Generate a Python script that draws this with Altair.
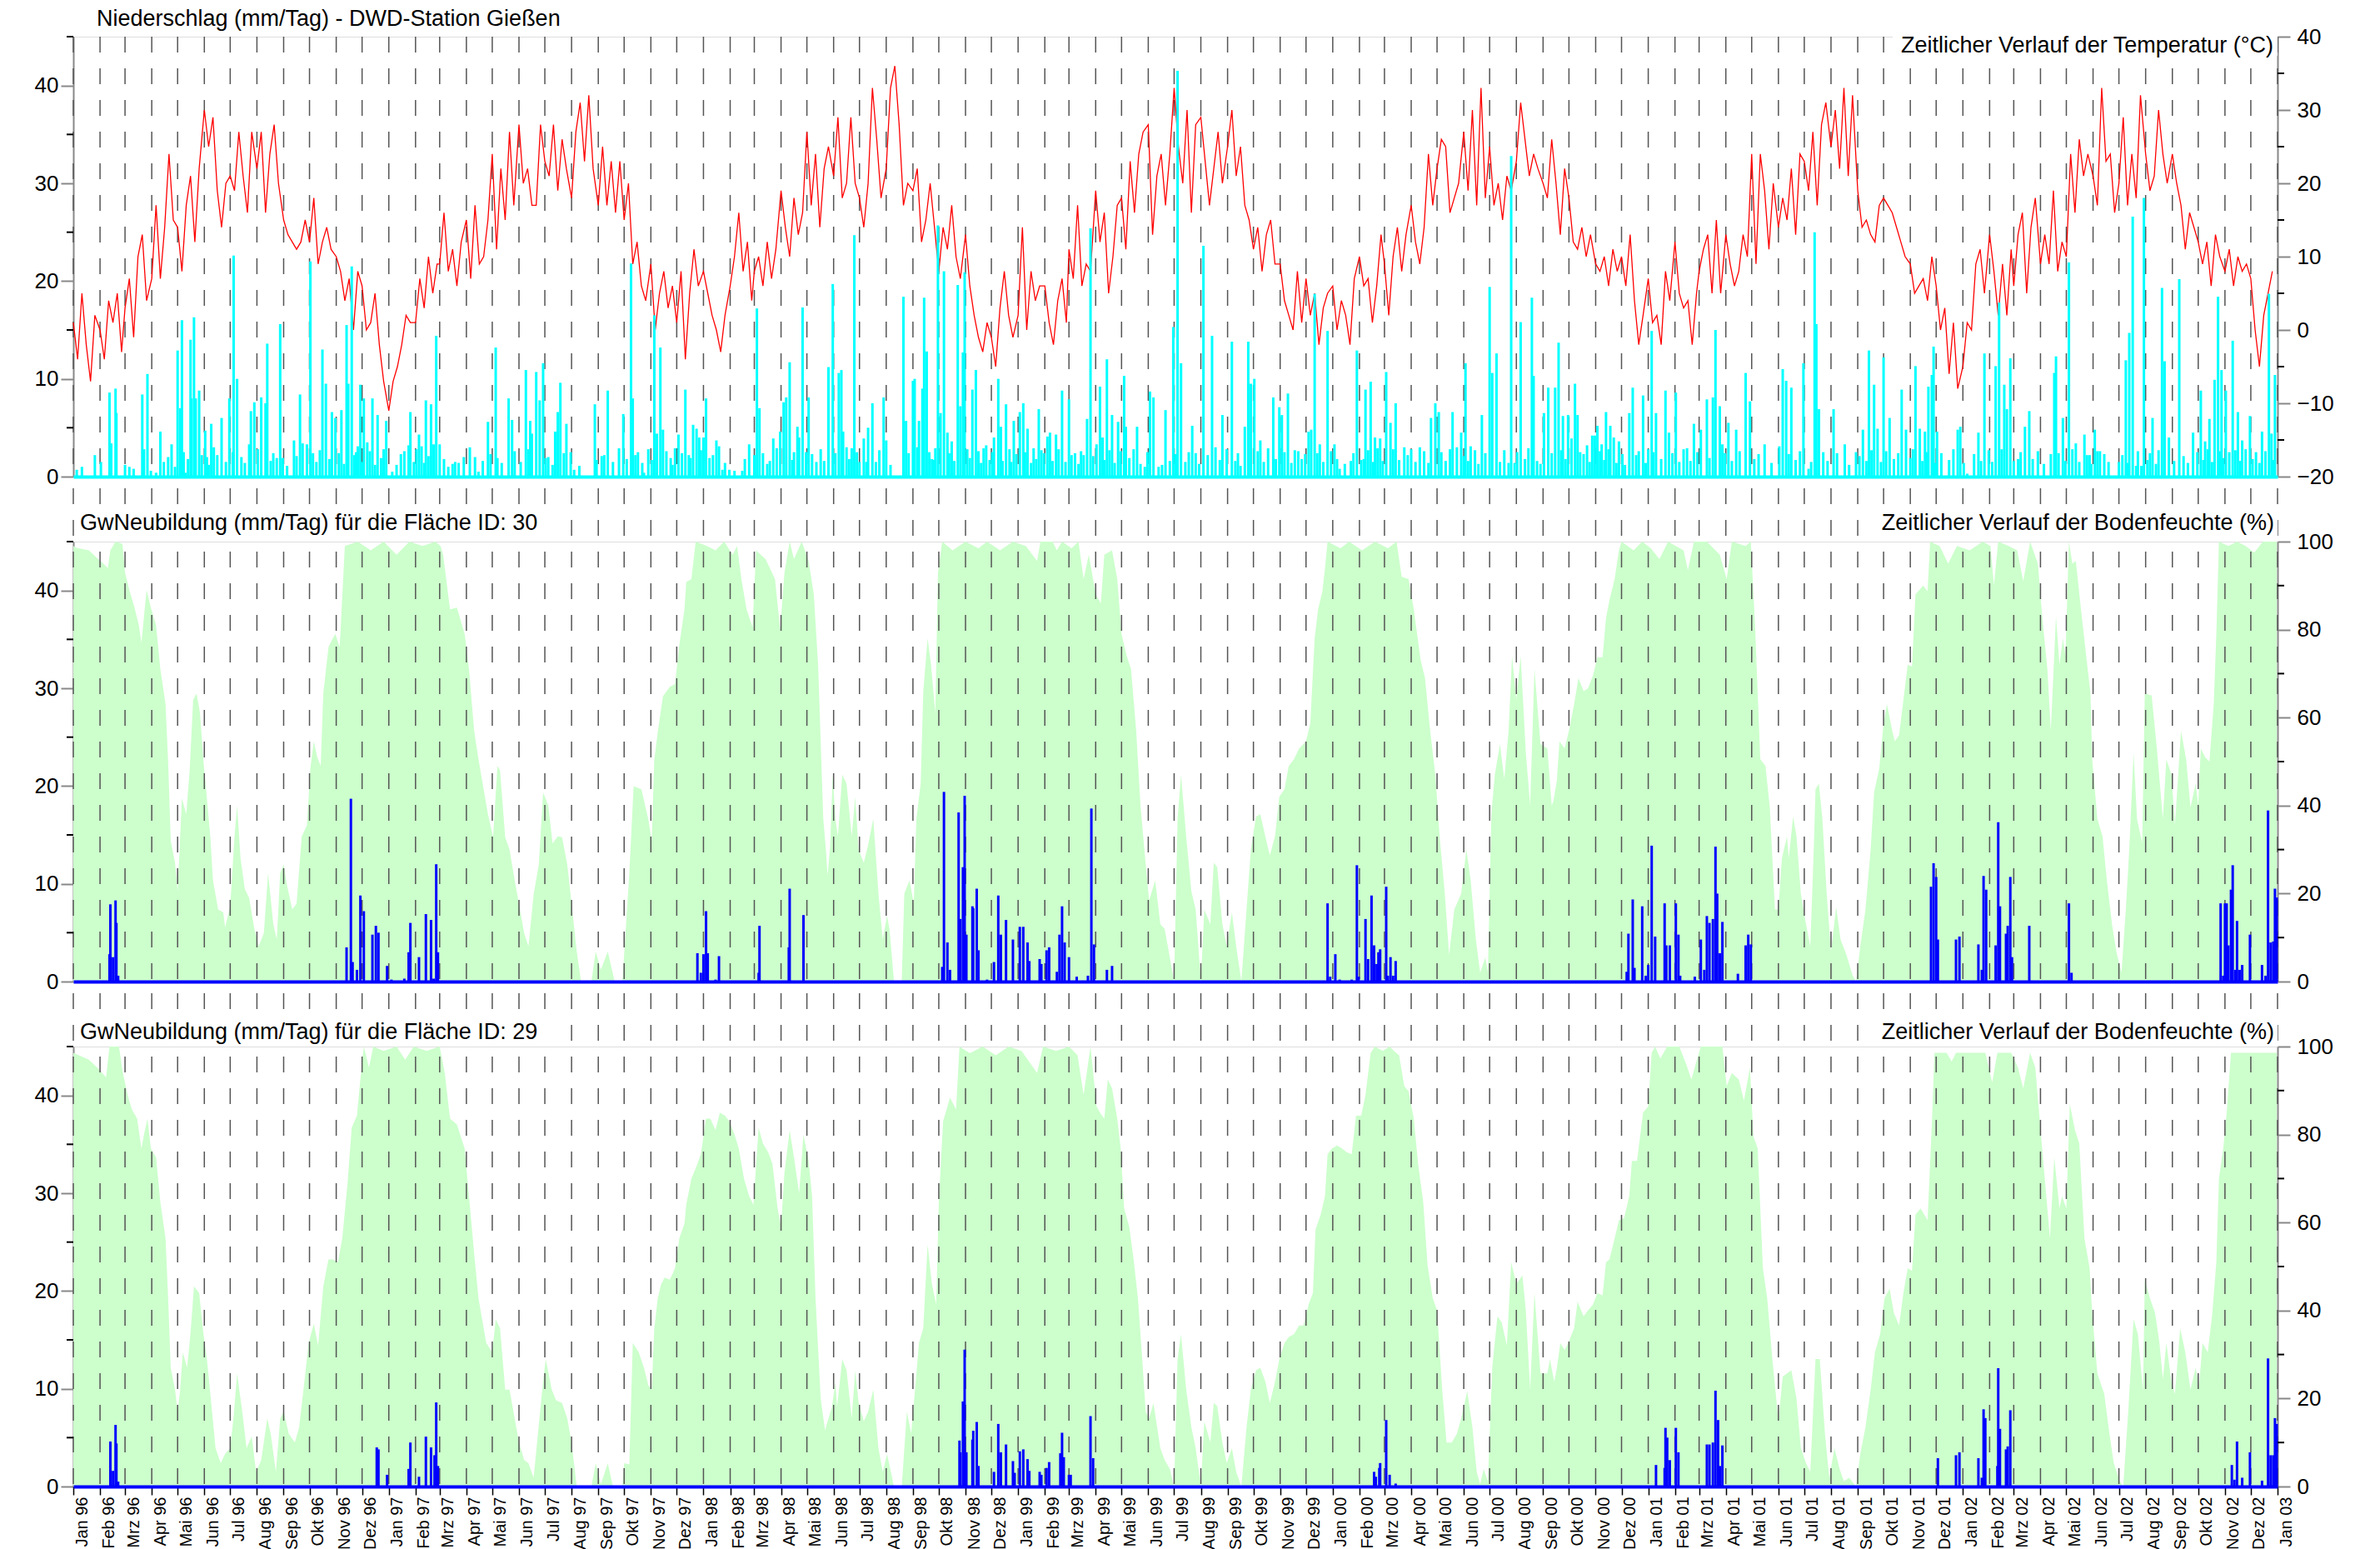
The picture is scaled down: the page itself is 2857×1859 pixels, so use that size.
import altair as alt
import pandas as pd

# ---------------- layout constants ----------------
W, H = 2646, 528
FONT = "Liberation Sans"
START = pd.Timestamp("1996-01-01")

# ---------------- texts / tick labels ----------------
MONTH_LABELS = ["Jan", "Feb", "Mrz", "Apr", "Mai", "Jun", "Jul", "Aug", "Sep", "Okt", "Nov", "Dez"]
TITLE_TOP_LEFT = "Niederschlag (mm/Tag) - DWD-Station Gießen"
TITLE_TOP_RIGHT = "Zeitlicher Verlauf der Temperatur (°C)"
TITLE_MID_LEFT = "GwNeubildung (mm/Tag) für die Fläche ID: 30"
TITLE_BOT_LEFT = "GwNeubildung (mm/Tag) für die Fläche ID: 29"
TITLE_SOIL = "Zeitlicher Verlauf der Bodenfeuchte (%)"

LEFT_TICKS = [0, 10, 20, 30, 40]
LEFT_MINOR = [5, 15, 25, 35, 45]
TEMP_TICKS = [-20, -10, 0, 10, 20, 30, 40]
TEMP_MINOR = [-15, -5, 5, 15, 25, 35]
SOIL_TICKS = [0, 20, 40, 60, 80, 100]
SOIL_MINOR = [10, 30, 50, 70, 90]

# ---------------- temperature (°C), 6 readings per month (day 1,6,11,16,21,26) ----------------
T1996 = [1,-4,5,-2,-7,2, 0,-4,4,1,5,-3, 3,7,-1,10,13,4, 7,17,7,14,24,15, 14,8,17,21,12,22, 30,25,29,19,14,20,
         21,19,27,21,16,27, 22,27,16,24,28,20, 15,13,12,11,12,15, 12,18,9,12,14,11, 10,8,4,7,0,8, 6,0,1,5,-2,-7]
T1997 = [-11,-7,-5,-2,2,1, 1,7,3,10,5,9, 9,16,8,11,6,12, 15,7,17,9,10,15, 24,11,22,15,27,17, 28,20,22,17,17,28,
         23,21,28,19,26,22, 18,27,31,23,32,22, 17,25,17,23,16,23, 15,20,9,12,6,4, 9,0,5,8,3,6, 1,8,-4,5,11,6]
T1998 = [8,5,2,0,-3,2, 6,10,16,8,12,4, 8,10,6,12,7,11, 19,14,10,18,13,16, 27,17,24,14,22,25, 21,29,18,20,29,20,
         18,14,20,33,26,18, 22,33,36,28,17,20, 19,22,12,15,20,14, 8,14,11,17,10,7, 13,6,2,-1,-3,1, -1,-5,3,8,2,-1]
T1999 = [2,14,0,8,4,6, 6,1,-2,4,7,1, 11,7,17,6,9,8, 19,12,16,5,10,17, 18,11,23,16,24,27, 28,13,21,24,17,24,
         33,25,20,30,16,28, 29,23,17,22,27,20, 25,30,21,25,17,15, 11,14,8,13,15,9, 9,4,2,0,8,1, 7,2,5,-2,3,5]
T2000 = [6,0,4,2,-2,7, 10,6,7,1,6,13, 9,2,10,14,8,13, 17,12,9,14,24,17, 22,26,25,16,18,20, 27,19,30,17,33,18,
         25,17,20,15,21,19, 23,31,26,21,24,22, 20,18,26,20,13,22, 18,12,11,14,10,13, 9,8,10,6,11,8, 10,6,13,4,-2,2]
T2001 = [7,1,2,-2,8,4, 12,5,3,4,-2,5, 8,11,13,5,15,5, 13,9,6,8,13,10, 24,9,24,19,11,20, 14,18,15,22,13,24,
         23,19,27,17,28,31, 25,30,22,33,21,32, 19,14,15,13,12,17, 18,17,16,14,12,10, 9,5,6,7,4,10, 6,0,3,-6,1,-8]
T2002 = [-5,1,0,9,11,5, 13,8,2,9,2,11, 6,13,16,5,14,18, 9,13,9,19,8,12, 10,24,16,26,21,24, 21,17,33,23,24,16,
         20,29,17,24,18,32, 24,19,21,30,24,20, 24,20,17,11,16,14, 12,9,12,6,13,10, 8,11,6,10,8,9, 7,0,-5,2,5,8]

# ---------------- precipitation (day since 1996-01-01, mm/Tag) ----------------
PRECIP_9698 = [(4,0.7),(10,1),(25,2.2),(32,1.5),(42,8.6),(44,3.4),(49,9),(50,6.5),(65,1),(80,8.4),(82,2.8),(86,10.5),
    (90,0.6),(96,0.4),(101,4.6),(114,3.3),(121,12.9),(124,7),(126,16),(130,0.4),(136,14),(137,8),(140,16.3),(142,8),
    (146,8.8),(153,4.7),(155,2),(160,5.4),(167,2.2),(172,6),(181,8),(185,2.5),(186,22.6),(190,10),(204,3.3),(206,6.7),
    (210,7.6),(218,8.1),(223,7.5),(225,13.6),(236,1.9),(240,15.6),(243,1.9),(256,3.7),(263,8.4),(266,3.4),(271,3.3),
    (275,22),(278,2.4),(289,13),(293,9.5),(300,6.6),(304,6),(311,6.8),(317,15.5),(319,9.5),(323,21.5),(328,2.5),
    (330,3.1),(333,9.4),(337,8),(341,3.5),(347,8),(353,6.3),(363,5.7),(370,0.5),(384,2.6),(389,3.2),(391,6.6),
    (401,4.3),(404,3.1),(409,7.8),(415,7.4),(418,3.3),(421,14.4),(425,3.3),(440,1.3),(443,1.5),(447,1.4),(453,2),
    (460,3),(470,0.5),(481,5.6),(490,13.2),(492,1.9),(505,8),(509,5.8),(525,10.9),(530,5.7),(532,4.4),(537,10.7),
    (541,7.8),(545,11.6),(548,1.9),(559,4.6),(562,6.6),(565,9.6),(572,5.4),(577,2.5),(581,0.7),(605,7.4),(607,1.7),
    (613,2.1),(620,8.8),(638,6.4),(647,21.8),(649,8),(652,2.2),(662,0.4),(674,16.5),(677,4.4),(681,13.2),(684,4.8),
    (693,1.9),(698,2.9),(702,4.3),(710,8.9),(714,2.2),(719,5.3),(723,4.9),(726,4),(731,4),(734,8),(738,1.9),
    (746,3.7),(749,3.1),(753,0.7),(761,0.7),(767,0.6),(776,0.6),(784,3.3),(790,2.2),(793,17.2),(796,7),(805,1.3),
    (812,3.9),(820,4.6),(824,7.6),(827,8.1),(831,11.7),(836,2.5),(840,5.1),(842,4),(846,17.3),(850,2.5)]
PRECIP_9800 = [(853,8.1),(876,11.2),(881,19.7),(888,10.6),(891,10.9),(893,4.6),(897,3),(906,24.7),(909,2.5),
    (912,1.5),(917,3.9),(920,1.5),(922,5),(927,7.5),(940,8.1),(943,3.7),(963,18.4),(966,5.7),(974,9.8),(976,10),
    (981,5.7),(985,9),(987,18.3),(990,12.8),(998,1.7),(1003,25.7),(1006,6.5),(1010,21),(1014,4.5),(1019,3.6),
    (1026,19.6),(1029,7.2),(1032,12.7),(1034,20.9),(1043,8.9),(1047,10.9),(1059,3.2),(1068,4),(1073,10),(1076,5.1),
    (1082,7.4),(1091,5.7),(1098,6.6),(1102,7.5),(1107,4.9),(1120,6.9),(1123,2.7),(1130,4.1),(1133,4.5),(1140,4.3),
    (1147,8.8),(1155,7.9),(1162,2.4),(1172,2.2),(1176,5.9),(1180,25.4),(1187,3.3),(1191,9.2),(1194,4),(1199,12),
    (1205,6.3),(1212,5.6),(1219,10.3),(1221,5.1),(1234,5.1),(1243,1),(1249,8.7),(1253,8.1),(1259,1),(1267,6.8),
    (1272,1.6),(1276,15.3),(1281,41.5),(1285,11.6),(1294,2.5),(1298,5.2),(1311,23.6),(1321,14.4),(1325,3),
    (1333,6.3),(1344,13.8),(1354,1.1),(1359,5.1),(1363,13.8),(1366,9.5),(1370,10),(1377,3.7),(1392,8.1),(1399,7.1),
    (1402,6.3),(1409,8.5),(1421,2.6),(1433,4.6),(1436,4.8),(1440,18.7),(1446,3.3),(1455,14.9),(1463,3.3),(1469,0.8),
    (1482,1.6),(1489,12.9),(1494,1.7),(1499,8.9),(1505,9.7),(1510,4),(1516,3.9),(1523,10.7),(1528,5.5),(1534,7.5),
    (1544,3),(1552,2.8),(1562,3),(1575,6),(1580,7.5),(1584,6.6),(1600,6.6),(1605,3),(1610,4.5),(1615,11.6),
    (1621,3.1),(1634,6.3),(1643,19.4),(1646,10.6),(1651,12.6),(1668,32.8),(1672,1.4),(1679,15.8),(1692,18.3),
    (1694,10.3),(1702,1.3),(1706,6.5),(1711,9.1)]
PRECIP_0002 = [(1719,9.1),(1723,13.7),(1728,6.2),(1734,6.3),(1738,3.9),(1742,9.5),(1745,6.3),(1752,2.3),(1756,3.2),
    (1762,4.2),(1765,4.2),(1768,5.2),(1773,3.3),(1778,6.6),(1783,5.2),(1787,4),(1793,3.6),(1805,6.5),(1809,9.1),
    (1813,2.2),(1821,8.3),(1827,2.8),(1831,14.9),(1836,6.5),(1847,8.8),(1851,4.5),(1859,8.6),(1872,2.9),(1880,5.4),
    (1888,4.8),(1895,7.9),(1902,8.1),(1905,15),(1910,7.2),(1913,3.3),(1920,5.5),(1929,4.8),(1940,10.6),(1945,7.7),
    (1962,3.3),(1979,3.1),(1983,11),(1987,9.8),(1993,9.1),(2007,11.6),(2013,0.8),(2020,25),(2022,15.6),(2025,6.9),
    (2042,6.9),(2055,3.3),(2068,2.5),(2076,4.8),(2083,12.9),(2089,9.4),(2093,4.9),(2100,12.2),(2107,6),(2121,8.9),
    (2126,4.8),(2137,11.3),(2142,4.9),(2148,4.6),(2152,9.2),(2156,10.4),(2158,13.3),(2162,4.6),(2181,2.8),
    (2186,4.8),(2189,5.1),(2197,0.3),(2210,4.5),(2217,12.6),(2230,11.3),(2234,17.8),(2240,9.4),(2243,6.9),
    (2247,12.1),(2256,1.8),(2264,5.1),(2269,6.7),(2294,2.3),(2298,10.6),(2300,12.3),(2308,6),(2315,21.9),
    (2323,3.4),(2333,4.3),(2339,2.2),(2345,4.8),(2351,2.6),(2356,2.3),(2373,1.5),(2381,11.9),(2385,14.7),
    (2389,26.6),(2393,1.1),(2399,1.1),(2402,28.5),(2412,6),(2423,19.3),(2426,11.8),(2431,4),(2443,20.2),(2459,4.5),
    (2468,8.8),(2473,3.6),(2478,5.9),(2484,9.9),(2488,18.4),(2492,10.9),(2497,8.8),(2501,2.5),(2505,13.9),
    (2511,6.6),(2516,3.7),(2525,6.2),(2539,4.6),(2547,18.7),(2550,4.4),(2554,10.4)]
# the dense band of light daily rain (0.5-3 mm) between the larger events
PRECIP_LIGHT = [(60,1.2),(70,0.8),(105,1.5),(110,2),(118,1),(128,2.5),(133,1.8),(149,2.2),(157,1.2),(163,3),
    (177,1.5),(195,2),(199,1.4),(214,2.8),(229,1.6),(232,2.4),(248,1.1),(259,2.1),(282,1.5),(286,2.7),(297,1.8),
    (308,2.4),(314,1.3),(326,2.2),(335,1.5),(344,2.6),(350,1.2),(357,1.9),(360,2.8),(375,1.2),(380,2.3),(395,1.5),
    (398,2.8),(407,1.4),(412,2.1),(430,1.8),(435,1),(466,2),(475,1.6),(484,2.3),(497,1.4),(512,2.6),(519,1.5),
    (528,2.8),(551,2),(556,1.2),(569,2.4),(587,1.1),(616,2.2),(626,1.5),(633,2.9),(642,1.8),(655,2.5),(660,1.4),
    (667,2.8),(671,1.7),(688,2.6),(695,1.2),(706,2.4),(716,1.9),(728,2.7),(742,2.2),(756,1.4),(779,1.8),(800,2.4),
    (808,1.6),(816,2.9),(834,1.7),(857,2.3),(862,1.5),(867,2.8),(871,1.6),(884,2.4),(900,1.8),(903,2.9),(931,1.5),
    (935,2.7),(948,1.2),(969,2.4),(979,3),(993,2.5),(996,1.8),(1000,2.9),(1016,2.4),(1022,1.6),(1037,2.8),
    (1040,1.9),(1050,2.6),(1053,1.4),(1056,2.9),(1063,1.7),(1066,2.5),(1078,1.6),(1086,2.8),(1088,1.5),(1094,2.3),
    (1104,2.5),(1111,1.4),(1114,2.9),(1117,1.8),(1126,2.4),(1136,1.6),(1143,2.8),(1151,1.5),(1158,2.2),(1166,1.3),
    (1169,2.6),(1183,2.1),(1196,1.7),(1202,2.7),(1208,1.4),(1215,2.6),(1225,1.9),(1230,2.8),(1238,1.3),(1246,2.5),
    (1263,1.2),(1279,2.3),(1290,1.5),(1302,2.4),(1306,1.3),(1316,2.2),(1330,1.7),(1338,2.8),(1348,1.6),(1351,2.4),
    (1374,2.6),(1381,1.5),(1386,2.9),(1395,1.8),(1405,2.5),(1413,1.4),(1417,2.7),(1425,1.8),(1429,2.3),(1443,2.4),
    (1450,1.5),(1459,2.6),(1466,1.8),(1475,1.3),(1485,2.4),(1497,1.8),(1502,2.7),(1508,1.5),(1513,2.9),(1519,1.6),
    (1531,2.8),(1538,1.7),(1548,2.2),(1557,1.5),(1567,2.6),(1572,1.4),(1587,2.5),(1592,1.6),(1597,2.8),(1613,2.1),
    (1618,1.6),(1626,2.7),(1630,1.3),(1638,2.4),(1655,1.5),(1660,2.7),(1665,1.4),(1675,2.5),(1684,1.8),(1688,2.9),
    (1698,1.6),(1715,2.4),(1726,2.7),(1731,1.8),(1748,2.5),(1759,1.5),(1771,2.6),(1776,1.7),(1781,2.8),(1790,1.4),
    (1797,2.3),(1800,1.2),(1816,2.6),(1824,1.4),(1833,2.5),(1842,1.8),(1855,2.4),(1863,1.5),(1868,2.8),(1876,1.6),
    (1884,2.5),(1898,1.9),(1916,2.4),(1924,1.6),(1933,2.6),(1950,1.8),(1955,2.3),(1970,1.4),(1990,2.3),(1998,1.7),
    (2003,2.6),(2016,1.5),(2030,2.5),(2035,1.6),(2046,2.4),(2060,1.2),(2072,2.1),(2080,1.6),(2086,2.7),(2097,1.5),
    (2103,2.6),(2112,1.8),(2117,2.4),(2131,1.9),(2134,2.8),(2145,1.6),(2150,2.5),(2160,1.4),(2167,2.4),(2176,1.7),
    (2193,1.4),(2205,2.3),(2213,1.6),(2222,2.7),(2226,1.5),(2237,2.8),(2251,1.6),(2259,2.5),(2273,1.8),(2279,2.6),
    (2286,1.3),(2303,2.4),(2311,1.6),(2319,2.8),(2327,1.5),(2336,2.2),(2341,1.3),(2348,2.6),(2361,1.5),(2377,2.2),
    (2383,1.4),(2395,2.6),(2406,1.7),(2409,2.4),(2416,1.3),(2419,2.7),(2437,1.6),(2448,2.1),(2453,1.4),(2464,2.5),
    (2471,1.7),(2476,2.8),(2481,1.5),(2490,2.6),(2494,1.9),(2508,2.7),(2514,1.6),(2520,2.8),(2528,1.8),(2532,2.5),
    (2536,1.4),(2543,2.6),(2552,1.7)]

# ---------------- groundwater recharge (day, mm/Tag) ----------------
GW30 = [(42,2.8),(43,7.9),(46,2.5),(49,8.3),(50,6),(52,0.6),(317,3.5),(322,18.7),(324,2),(329,1.2),(333,8.8),
    (337,7.2),(347,4.8),(351,5.7),(354,5),(364,1.6),(369,0.2),(384,0.3),(389,3),(391,6),(401,2.5),(409,6.9),
    (415,6.3),(418,0.3),(421,12),(423,3),(724,2.9),(728,0.9),(731,2.8),(734,7.2),(736,2.9),(745,0.2),(749,2.6),
    (795,0.9),(796,5.7),(830,3.5),(831,9.5),(847,6.8),(1008,1.5),(1010,19.4),(1014,4),(1017,1.2),(1027,17.3),
    (1029,6.4),(1032,11.7),(1034,19),(1036,4.8),(1043,7.7),(1044,7.5),(1048,9.5),(1050,3.2),(1060,0.2),(1068,2),
    (1073,8.8),(1076,4.8),(1082,6.3),(1090,4.3),(1098,5.6),(1102,5.6),(1107,4),(1109,2.1),(1121,2.3),(1123,1.8),
    (1129,3.2),(1132,3.5),(1141,1),(1144,4.8),(1147,7.7),(1150,4),(1155,2.5),(1164,0.5),(1177,0.6),(1181,17.7),
    (1184,3.8),(1199,1.2),(1205,1.6),(1455,8),(1458,0.5),(1464,2.8),(1469,0.2),(1483,0.2),(1489,11.9),(1491,0.5),
    (1499,6.4),(1502,2.3),(1506,8.8),(1509,3.7),(1512,1.8),(1514,3),(1516,3.3),(1523,9.7),(1525,0.6),(1528,2.5),
    (1531,0.6),(1534,2.1),(1802,1),(1804,4.9),(1809,8.4),(1811,1.4),(1820,7.7),(1824,0.6),(1827,1.7),(1831,13.9),
    (1835,4.6),(1846,8),(1848,3.7),(1852,3.7),(1859,8),(1862,4.8),(1864,0.6),(1881,0.5),(1888,4.3),(1892,1.2),
    (1895,6.7),(1898,6),(1902,6.4),(1905,13.8),(1907,9),(1910,2.9),(1913,6.1),(1931,0.8),(1940,3.7),(1943,4.8),
    (1946,3.8),(2155,9.7),(2158,12.1),(2161,10.7),(2163,4.3),(2184,4.3),(2188,4.6),(2210,3.8),(2214,1.2),
    (2216,10.8),(2219,9.4),(2230,3.7),(2233,16.3),(2235,7.7),(2242,4.9),(2244,5.7),(2247,10.7),(2249,2.5),
    (2269,5.7),(2315,8),(2318,0.9),(2491,8),(2494,0.6),(2496,8),(2498,8),(2500,3.7),(2503,9.4),(2505,11.9),
    (2508,1.2),(2510,6.2),(2513,1.2),(2516,1.7),(2525,4.8),(2539,1.7),(2543,0.6),(2546,17.5),(2549,4),(2552,4.1),
    (2554,9.5),(2556,8.6)]
GW29 = [(43,4.6),(46,1.6),(49,6.3),(50,4.4),(52,0.5),(352,4),(354,3.8),(364,1.2),(389,1.8),(391,4.5),(401,1),
    (409,5.1),(415,4),(419,3.2),(421,8.6),(423,2.1),(1028,4.7),(1029,3.5),(1032,8.7),(1034,14),(1036,3.5),
    (1043,4.8),(1044,5.7),(1048,6.6),(1050,2.1),(1068,1.5),(1073,6.4),(1076,3.5),(1082,4.3),(1090,2.6),(1092,1.4),
    (1098,3.6),(1102,3.8),(1107,2.8),(1109,1.6),(1121,1.5),(1123,1.2),(1129,1.9),(1132,2.5),(1145,3.4),(1147,5.5),
    (1149,3),(1155,1.2),(1157,1.2),(1180,7.2),(1183,2.9),(1509,1.5),(1511,1),(1515,1.9),(1516,2.4),(1523,6.8),
    (1527,1.2),(1534,0.3),(1836,2.2),(1846,1.9),(1847,6),(1849,5),(1852,2.7),(1859,6),(1862,3.5),(1895,4.3),
    (1898,4.3),(1902,4.5),(1905,9.8),(1908,6.8),(1910,2.1),(1913,4.2),(2163,2.9),(2184,3.2),(2188,3.5),(2210,2.9),
    (2214,0.9),(2216,7.9),(2218,7),(2232,2.1),(2233,12.1),(2235,5.9),(2242,3.8),(2244,4.1),(2247,7.8),(2504,2.2),
    (2507,0.7),(2510,4.6),(2516,0.9),(2525,3.5),(2539,0.6),(2546,13.1),(2549,3.2),(2552,3.2),(2554,7),(2556,6.4)]

# ---------------- soil moisture (day, %) ----------------
SOIL30 = [(0,99),(4,98.6),(18,98),(29,96),(35,95),(40,94),(43,98),(49,100),(57,99.5),(60,93),(65,89),(71,85),
    (76,81),(79,77),(82,83),(85,89),(90,85),(96,81),(101,71),(107,63),(110,50),(113,32),(118,27),(121,20.5),
    (124,33),(126,41.6),(131,38),(135,48),(139,64),(143,65.5),(147,61),(151,50),(154,43.7),(159,32.8),(162,23),
    (168,16.4),(174,15.7),(176,12.3),(182,17),(187,33),(190,40),(194,28),(199,21),(204,19),(210,12),(215,8),
    (221,11),(226,24.6),(232,13),(236,9.6),(240,24.6),(244,26.6),(248,21.8),(254,16.4),(259,17.7),(265,33),
    (271,35.5),(275,48.5),(279,54.6),(283,51),(287,49),(290,65.5),(296,76),(301,78),(304,79),(309,76),(315,99),
    (330,100),(345,98),(360,100),(375,97),(390,100),(405,99),(420,100),(426,99),(429,97),(437,84.6),(445,85),
    (454,79),(459,71),(465,57),(470,50.5),(476,43.7),(481,38),(487,32.8),(492,49),(495,48),(501,32.8),(506,30),
    (512,23),(517,17.7),(523,11),(528,8),(534,19.8),(540,26.6),(545,43),(551,40),(556,31.4),(562,33),(567,32.8),
    (573,26.6),(578,17.7),(584,6.8),(589,0),(601,0),(606,6.8),(612,2.7),(620,6.8),(628,0),(637,0),(645,24.6),
    (650,44.4),(659,43.7),(667,36.9),(671,32),(674,50.5),(678,56.7),(684,64.8),(692,67),(698,67.6),(703,76.5),
    (709,84.6),(711,90.8),(717,91.5),(722,100),(735,99),(745,98),(755,100),(765,97),(770,99),(775,91.5),
    (781,84.6),(788,80.5),(792,98),(803,96),(814,91.5),(820,80),(825,93),(831,100),(836,96),(845,100),(853,95.6),
    (859,88),(864,72),(870,37),(873,30),(875,24),(878,31),(881,47),(884,37),(887,33),(892,47),(897,45),(903,33),
    (907,42),(911,30),(917,27),(922,31),(928,37),(934,20),(939,9.6),(944,15),(947,11.6),(952,0),(961,0),(964,20),
    (970,23),(975,17.7),(978,37),(983,45),(986,66),(991,78),(995,72),(1000,61),(1003,93),(1008,100),(1020,98),
    (1035,100),(1050,98.5),(1060,100),(1075,98),(1090,100),(1105,99),(1118,95.6),(1122,100),(1136,100),(1141,98),
    (1147,100),(1158,98.5),(1166,100),(1172,91.5),(1178,97),(1186,88),(1192,86),(1196,97),(1205,98),(1211,91.5),
    (1216,79),(1222,74),(1227,71),(1233,57),(1238,40),(1244,26.6),(1248,18.4),(1255,23),(1261,13),(1266,12),
    (1272,5.5),(1277,0),(1281,37),(1285,47),(1291,33),(1297,20.5),(1302,16.4),(1308,0),(1312,16.4),(1319,13),
    (1323,27),(1327,26),(1333,13),(1338,8),(1344,15.7),(1349,8),(1355,0),(1361,16.4),(1366,30),(1372,37.5),
    (1377,38),(1383,32.8),(1388,28.7),(1394,33),(1399,42),(1405,43.7),(1410,49),(1416,50.5),(1422,53),(1430,54.6),
    (1435,58.7),(1440,78),(1444,84.6),(1449,88.7),(1452,94),(1455,100),(1470,98.5),(1480,100),(1495,98),(1510,100),
    (1525,98.5),(1535,100),(1541,92),(1549,91.5),(1555,84.6),(1563,73),(1568,69),(1574,57),(1580,47),(1585,33),
    (1591,20),(1596,6),(1602,16.4),(1610,20),(1616,30),(1621,23),(1627,9.6),(1632,2),(1638,5.5),(1641,2),
    (1645,38),(1649,47),(1655,54),(1660,46),(1665,57),(1669,74),(1674,64),(1679,74),(1685,52),(1690,40),(1695,71),
    (1702,54),(1710,53),(1715,40),(1717,41),(1721,45.7),(1724,54.6),(1730,53),(1735,57),(1741,63),(1746,69),
    (1752,66),(1757,66.6),(1763,69.6),(1768,73.7),(1774,73.7),(1778,82.6),(1782,86.7),(1788,91.5),(1793,98),
    (1796,100),(1810,98),(1820,100),(1830,98.5),(1840,96),(1850,100),(1868,98),(1873,93.5),(1880,100),(1895,100),
    (1910,97),(1918,91.5),(1924,100),(1940,99),(1946,100),(1951,80.5),(1957,50.5),(1963,49),(1968,39.6),
    (1974,16.4),(1978,16.4),(1982,28),(1988,33),(1990,28),(1995,37.5),(1999,33),(2004,20),(2010,13),(2015,8),
    (2019,30),(2021,43.7),(2025,45),(2029,37),(2034,20),(2039,6.8),(2045,17),(2050,9.6),(2057,6),(2064,1.4),
    (2068,0),(2073,8),(2079,16.4),(2085,30),(2089,43),(2095,48.5),(2100,58.7),(2104,63),(2110,57),(2113,54.6),
    (2118,56),(2123,64),(2128,72),(2133,71.6),(2137,88),(2146,90),(2151,88.7),(2154,100),(2165,99),(2175,95),
    (2185,99),(2200,98),(2215,100),(2224,99),(2228,90),(2233,100),(2245,99),(2255,98),(2262,91),(2270,100),
    (2279,95),(2284,83),(2290,71),(2294,57),(2300,83),(2304,72),(2308,78),(2311,74),(2315,100),(2319,95),
    (2323,95.6),(2329,84.6),(2334,75.8),(2340,65.5),(2342,50.5),(2348,37),(2354,33),(2359,23),(2365,13),
    (2370,6.8),(2376,2),(2381,16.4),(2385,30),(2390,52),(2394,37),(2400,31.4),(2403,65.5),(2411,65),(2417,53),
    (2424,37),(2428,50.5),(2434,47),(2438,35.5),(2445,57),(2451,50.5),(2456,39.6),(2462,45),(2465,40),(2468,53),
    (2473,51),(2478,50),(2483,63),(2486,79),(2489,100),(2500,99),(2510,100),(2520,99),(2530,97.5),(2540,100),
    (2556,100)]
SOIL29 = [(0,98.6),(18,97),(29,95),(38,93),(42,100),(53,100),(57,94.5),(63,89),(68,85.7),(74,83.6),(79,76.8),
    (82,80),(86,83.6),(90,76.8),(96,74.8),(101,64.6),(107,56.4),(110,42.8),(113,27),(118,22),(121,17),(124,22),
    (127,30.5),(132,27),(136,35),(140,45.5),(146,44),(151,34.6),(155,29),(160,19),(165,8.7),(171,5.3),(176,7.4),
    (182,8.7),(186,16),(190,25.7),(196,17),(201,8.7),(207,11.4),(212,3.3),(218,6),(225,15.5),(229,12),(235,3.3),
    (240,15.5),(244,17),(250,12),(257,10),(262,13.5),(267,22),(273,32.6),(279,37),(284,32),(290,45.5),(296,51.6),
    (301,51.6),(307,51),(312,56.4),(318,68.7),(323,81.6),(329,84.3),(333,92.5),(337,100),(343,95.2),(348,100),
    (360,99),(375,100),(385,97),(395,100),(410,99),(425,100),(431,93.9),(437,83.6),(445,82.3),(454,76.8),(459,66),
    (465,53),(470,42.8),(479,32.6),(486,30.5),(490,38),(495,36),(501,22),(506,22),(512,15.5),(517,10),(523,6),
    (528,5.3),(534,2),(540,14),(544,22),(548,29),(555,22),(560,19.6),(567,19),(573,15.5),(578,10),(584,0),(601,0),
    (606,5.3),(612,0.5),(620,5.3),(626,0),(637,0),(639,5.3),(645,5),(649,32.6),(656,30.5),(662,27),(667,23),
    (671,22),(674,36),(678,42.8),(682,46),(686,47.5),(692,47),(698,49.6),(703,56.4),(709,59.8),(711,64),(717,70),
    (723,72.8),(728,75.5),(734,83.6),(739,83.6),(745,81),(750,85),(756,84.3),(761,83),(767,80),(772,76.8),(778,70),
    (784,66),(789,64),(795,81.6),(800,78),(806,76),(811,73.4),(817,63.2),(821,59),(825,71.4),(831,81),(836,74.8),
    (842,66.6),(847,80),(853,74),(857,66),(861,42.8),(867,20),(872,12.8),(876,15.5),(880,18),(884,23.7),(886,18),
    (892,29),(897,26.4),(903,15.5),(907,26.4),(911,19),(917,14.8),(922,17),(928,22),(934,8.7),(939,3.3),(944,7.4),
    (947,4.6),(952,0),(961,0),(967,17),(972,12),(976,21),(981,32.6),(986,36),(991,55),(996,46),(1001,41.4),
    (1004,64.6),(1009,83),(1017,88.4),(1024,85.7),(1028,100),(1040,98.5),(1055,100),(1070,98),(1085,100),
    (1100,99),(1118,94),(1125,100),(1140,99),(1155,100),(1165,98),(1172,89),(1180,100),(1187,86.4),(1191,85),
    (1196,83.6),(1200,92.5),(1205,90.5),(1211,83.6),(1215,76.8),(1219,63.2),(1225,59),(1230,51.6),(1235,42.8),
    (1240,29),(1244,17),(1248,15.5),(1253,19),(1261,8.7),(1266,6),(1272,4),(1277,0),(1281,29),(1285,34.6),
    (1291,22),(1297,13.5),(1302,8.7),(1308,0),(1312,14.8),(1319,10),(1323,19),(1327,18.3),(1333,10),(1338,5.3),
    (1344,8.7),(1349,3.3),(1355,0),(1361,13.5),(1366,22),(1372,26.4),(1377,27),(1383,23.7),(1388,19),(1394,23.7),
    (1399,29),(1405,32.6),(1410,34),(1416,34.6),(1422,36.6),(1427,36.6),(1433,41.4),(1438,44),(1441,58.4),
    (1447,61.8),(1452,66),(1455,75.5),(1460,76.8),(1466,77.5),(1472,76.8),(1477,76),(1483,75.5),(1488,84.3),
    (1494,84.3),(1499,89),(1505,98.6),(1510,100),(1519,99),(1527,100),(1532,99),(1538,98),(1544,91),(1549,89.8),
    (1555,83.6),(1560,73.4),(1566,64.6),(1571,50.3),(1577,42.8),(1582,40),(1588,22),(1593,10),(1599,10),(1605,12),
    (1610,15.5),(1617,21.7),(1623,13.5),(1628,3.3),(1632,0.5),(1636,4),(1641,1.2),(1646,27),(1652,38.7),
    (1657,37.3),(1663,32),(1668,51),(1674,46),(1681,48),(1685,40),(1690,22),(1695,44),(1702,25.7),(1710,25.7),
    (1713,29),(1718,23.7),(1721,27),(1725,32.6),(1730,31),(1735,33),(1741,36),(1745,42),(1752,38.7),(1757,40),
    (1763,41.4),(1768,44),(1774,43.4),(1778,51),(1782,51.6),(1788,56.4),(1793,60.5),(1799,61),(1805,66),(1808,74),
    (1814,74),(1821,85),(1827,86.4),(1831,98.6),(1835,100),(1841,97.3),(1849,100),(1863,100),(1871,96),
    (1877,92.5),(1882,96),(1888,100),(1913,100),(1918,91),(1924,94),(1932,92.5),(1938,87.7),(1945,95.2),
    (1949,79.6),(1954,76.8),(1960,49.6),(1965,42.8),(1971,29),(1978,14.8),(1983,25),(1988,25.7),(1993,26.4),
    (1999,20),(2004,8.7),(2010,5.3),(2015,3.3),(2021,29),(2026,29),(2032,12),(2037,2),(2043,8.7),(2049,4),
    (2054,1.2),(2060,2),(2068,0),(2073,7.4),(2079,13.5),(2085,22),(2090,30.5),(2096,34.6),(2101,42.8),(2107,45),
    (2112,39.4),(2118,36.6),(2123,44),(2128,49.6),(2133,49),(2137,61.8),(2143,63.2),(2151,60.5),(2156,82.3),
    (2159,98.6),(2173,98.6),(2179,96.6),(2184,98.6),(2218,98.6),(2226,91.8),(2232,98.6),(2248,98.6),(2256,95.2),
    (2262,90.5),(2270,98.6),(2276,95.2),(2281,83.6),(2287,70),(2293,56.4),(2298,74.8),(2304,63.2),(2307,66),
    (2312,63.2),(2316,87),(2322,81),(2327,78),(2333,56.4),(2339,49.6),(2342,39.4),(2348,25.7),(2356,21),(2362,12),
    (2367,5.3),(2374,1.2),(2378,0),(2384,17.6),(2390,38),(2395,34.6),(2401,21.7),(2403,46.9),(2409,42.8),
    (2415,39.4),(2420,32.6),(2424,24.4),(2428,32.6),(2434,23.7),(2438,21),(2444,36),(2450,30.5),(2456,22),
    (2462,27),(2466,23),(2470,32.6),(2476,30.5),(2481,38.7),(2486,51),(2489,70),(2494,76.8),(2498,85),(2503,98.6),
    (2556,98.6)]

# ---------------- build tables ----------------
def iso(day):
    return (START + pd.Timedelta(days=int(day))).strftime("%Y-%m-%d")

temp_rows = []
for year, vals in zip(range(1996, 2003), [T1996, T1997, T1998, T1999, T2000, T2001, T2002]):
    for m in range(12):
        for k in range(6):
            d = pd.Timestamp(year=year, month=m + 1, day=1) + pd.Timedelta(days=5 * k)
            temp_rows.append({"date": d.strftime("%Y-%m-%d"), "t": vals[m * 6 + k]})
df_temp = pd.DataFrame(temp_rows)

def events(pairs, col):
    return pd.DataFrame({"date": [iso(d) for d, _ in pairs], col: [v for _, v in pairs]})

df_precip = events(PRECIP_LIGHT + PRECIP_9698 + PRECIP_9800 + PRECIP_0002, "mm")
df_gw30 = events(GW30, "mm")
df_gw29 = events(GW29, "mm")
df_soil30 = events(SOIL30, "pct")
df_soil29 = events(SOIL29, "pct")
df_months = pd.DataFrame({"date": pd.date_range("1996-01-01", "2003-01-01", freq="MS").strftime("%Y-%m-%d")})

# ---------------- scales / axes ----------------
xscale = alt.Scale(type="utc", nice=False,
                   domain=[alt.DateTime(year=1996, month=1, date=1, utc=True),
                           alt.DateTime(year=2003, month=1, date=1, utc=True)])
label_expr = "[" + ",".join("'%s'" % m for m in MONTH_LABELS) + "][utcmonth(datum.value)] + ' ' + utcFormat(datum.value, '%y')"

def x_axis(color, labels):
    if labels:
        return alt.Axis(domainColor=color, domainWidth=4, zindex=1, grid=False, title=None,
                        tickCount={"interval": "month", "step": 1}, labelExpr=label_expr,
                        labelAngle=270, labelAlign="right", labelBaseline="top", labelFontSize=20,
                        labelPadding=2, tickSize=10, tickColor="black", tickWidth=1.5,
                        labelOverlap=False, labelFlush=False, labelBound=False)
    return alt.Axis(domainColor=color, domainWidth=4, zindex=1, grid=False, title=None,
                    ticks=False, labels=False)

def X(axis):
    return alt.X("date:T", scale=xscale, axis=axis, title=None)

left_scale = alt.Scale(domain=[0, 45], nice=False, zero=True)
temp_scale = alt.Scale(domain=[-20, 40], nice=False, zero=False)
soil_scale = alt.Scale(domain=[0, 100], nice=False, zero=True)

def y_axis(orient, values, pad):
    return alt.Axis(orient=orient, values=values, tickSize=15, labelPadding=pad, grid=False, title=None,
                    labelFontSize=26, domainWidth=2, tickWidth=2)

def minor(values, scale, side):
    x0, x1 = (-8, 0) if side == "left" else (W, W + 8)
    return alt.Chart(pd.DataFrame({"v": values})).mark_rule(color="black", strokeWidth=2).encode(
        x=alt.value(x0), x2=alt.value(x1), y=alt.Y("v:Q", scale=scale, axis=None))

def label(text, x, y, align):
    return alt.Chart(pd.DataFrame({"t": [text]})).mark_text(
        align=align, baseline="middle", font=FONT, fontSize=27, color="black").encode(
        text="t:N", x=alt.value(x), y=alt.value(y))

def box(x0, x1, y0, y1):
    return alt.Chart(pd.DataFrame({"b": [0]})).mark_rect(color="white").encode(
        x=alt.value(x0), x2=alt.value(x1), y=alt.value(y0), y2=alt.value(y1))

def grid(axis, top):
    return alt.Chart(df_months).mark_rule(color="#555555", strokeWidth=1.5, strokeDash=[19, 19]).encode(
        x=X(axis), y=alt.value(top), y2=alt.value(H))

# ---------------- top panel ----------------
ax_top = x_axis("#00ffff", False)
temp_line = alt.Chart(df_temp).mark_line(color="#ff0000", strokeWidth=1.3).encode(
    x=X(ax_top), y=alt.Y("t:Q", scale=temp_scale, axis=y_axis("right", TEMP_TICKS, 8)))
precip = alt.Chart(df_precip).mark_rule(color="#00ffff", strokeWidth=3).encode(
    x=X(ax_top), y=alt.Y("mm:Q", scale=left_scale, axis=y_axis("left", LEFT_TICKS, 3)), y2=alt.datum(0))
top = alt.layer(
    grid(ax_top, 0), temp_line, precip,
    minor(LEFT_MINOR, left_scale, "left"), minor(TEMP_MINOR, temp_scale, "right"),
    box(2184, W, 0, 23),
    label(TITLE_TOP_LEFT, 28, -21, "left"), label(TITLE_TOP_RIGHT, 2641, 11, "right"),
).resolve_scale(y="independent").properties(width=W, height=H)

# ---------------- lower panels ----------------
def lower(df_soil, df_gw, title_left, with_labels, ty):
    ax = x_axis("#0000ff", with_labels)
    area = alt.Chart(df_soil).mark_area(color="#ccffcc", opacity=1, interpolate="linear").encode(
        x=X(ax), y=alt.Y("pct:Q", scale=soil_scale, axis=y_axis("right", SOIL_TICKS, 8)))
    bars = alt.Chart(df_gw).mark_rule(color="#0000ff", strokeWidth=3).encode(
        x=X(ax), y=alt.Y("mm:Q", scale=left_scale, axis=y_axis("left", LEFT_TICKS, 3)), y2=alt.datum(0))
    return alt.layer(
        area, grid(ax, -64), bars,
        minor(LEFT_MINOR, left_scale, "left"), minor(SOIL_MINOR, soil_scale, "right"),
        box(2, 570, ty - 15, ty + 15), box(2164, W, ty - 15, ty + 15),
        label(title_left, 8, ty, "left"), label(TITLE_SOIL, 2642, ty, "right"),
    ).resolve_scale(y="independent").properties(width=W, height=H)

mid = lower(df_soil30, df_gw30, TITLE_MID_LEFT, False, -22)
bot = lower(df_soil29, df_gw29, TITLE_BOT_LEFT, True, -17)

chart = alt.vconcat(top, mid, bot, spacing=78, bounds="flush").properties(
    padding={"left": 32, "top": 0, "right": 5, "bottom": 0}
).configure_view(stroke=None).configure_axis(
    labelFont=FONT, labelColor="black", domainColor="black", tickColor="black"
).configure(font=FONT)

chart.save("out.html", embed_options={"renderer": "svg", "actions": False})
